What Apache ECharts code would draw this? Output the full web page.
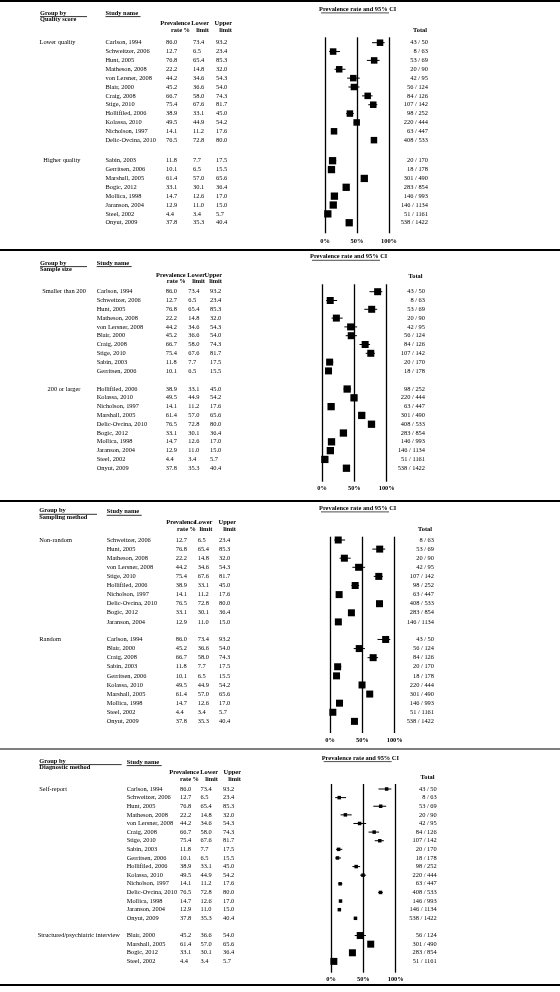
<!DOCTYPE html>
<html><head><meta charset="utf-8">
<script src="https://cdn.jsdelivr.net/npm/echarts@6/dist/echarts.min.js"></script>
<style>html,body{margin:0;padding:0;background:#fff}#c{width:560px;height:992px}</style>
</head><body><div id="c"></div><script>
// ---------- DATA ----------
const studies = ['Carlson, 1994','Schweitzer, 2006','Hunt, 2005','Matheson, 2008','von Lersner, 2008','Blair, 2000','Craig, 2008','Stige, 2010','Hollifiled, 2006','Kolassa, 2010','Nicholson, 1997','Delic-Ovcina, 2010','Sabin, 2003','Gerritsen, 2006','Marshall, 2005','Bogic, 2012','Mollica, 1998','Jaranson, 2004','Steel, 2002','Onyut, 2009'];
const prevalence = [86.0,12.7,76.8,22.2,44.2,45.2,66.7,75.4,38.9,49.5,14.1,76.5,11.8,10.1,61.4,33.1,14.7,12.9,4.4,37.8];
const lowerLimit = [73.4,6.5,65.4,14.8,34.6,36.6,58.0,67.6,33.1,44.9,11.2,72.8,7.7,6.5,57.0,30.1,12.6,11.0,3.4,35.3];
const upperLimit = [93.2,23.4,85.3,32.0,54.3,54.0,74.3,81.7,45.0,54.2,17.6,80.0,17.5,15.5,65.6,36.4,17.0,15.0,5.7,40.4];
const events = [43,8,53,20,42,56,84,107,98,220,63,408,20,18,301,283,146,146,51,538];
const totals = [50,63,69,90,95,124,126,142,252,444,447,533,170,178,490,854,993,1134,1161,1422];

const qualityLower = ['Carlson, 1994','Schweitzer, 2006','Hunt, 2005','Matheson, 2008','von Lersner, 2008','Blair, 2000','Craig, 2008','Stige, 2010','Hollifiled, 2006','Kolassa, 2010','Nicholson, 1997','Delic-Ovcina, 2010'];
const qualityHigher = ['Sabin, 2003','Gerritsen, 2006','Marshall, 2005','Bogic, 2012','Mollica, 1998','Jaranson, 2004','Steel, 2002','Onyut, 2009'];
const sizeSmall = ['Carlson, 1994','Schweitzer, 2006','Hunt, 2005','Matheson, 2008','von Lersner, 2008','Blair, 2000','Craig, 2008','Stige, 2010','Sabin, 2003','Gerritsen, 2006'];
const sizeLarge = ['Hollifiled, 2006','Kolassa, 2010','Nicholson, 1997','Marshall, 2005','Delic-Ovcina, 2010','Bogic, 2012','Mollica, 1998','Jaranson, 2004','Steel, 2002','Onyut, 2009'];
const samplingNonRandom = ['Schweitzer, 2006','Hunt, 2005','Matheson, 2008','von Lersner, 2008','Stige, 2010','Hollifiled, 2006','Nicholson, 1997','Delic-Ovcina, 2010','Bogic, 2012','Jaranson, 2004'];
const samplingRandom = ['Carlson, 1994','Blair, 2000','Craig, 2008','Sabin, 2003','Gerritsen, 2006','Kolassa, 2010','Marshall, 2005','Mollica, 1998','Steel, 2002','Onyut, 2009'];
const diagSelf = ['Carlson, 1994','Schweitzer, 2006','Hunt, 2005','Matheson, 2008','von Lersner, 2008','Craig, 2008','Stige, 2010','Sabin, 2003','Gerritsen, 2006','Hollifiled, 2006','Kolassa, 2010','Nicholson, 1997','Delic-Ovcina, 2010','Mollica, 1998','Jaranson, 2004','Onyut, 2009'];
const diagStructured = ['Blair, 2000','Marshall, 2005','Bogic, 2012','Steel, 2002'];

const panelTitles = ['Quality score','Sample size','Sampling method','Diagnostic method'];
const groupLabels = [['Lower quality','Higher quality'],['Smaller than 200','200 or larger'],['Non-random','Random'],['Self-report','Structured/psychiatric interview']];
const groupMembers = [[qualityLower,qualityHigher],[sizeSmall,sizeLarge],[samplingNonRandom,samplingRandom],[diagSelf,diagStructured]];
const tickValues = [0,50,100];
const tickLabels = ['0%','50%','100%'];

// ---------- LAYOUT ----------
const FS = 6.4;
const serif = '"Liberation Serif","DejaVu Serif",serif';
const layouts = [
 {lineY:1,lineColor:'#000',gbX:40,gbY:13,gbUL:87,subY:19.5,nameX:105.5,nameHdrY:13,prevX:166,lowX:193,upX:216,prevHdrR:190,lowHdrR:209,upHdrR:232,hdrY1:23.5,hdrY2:30,ciX:319,ciY:9.3,totHdrX:420,totHdrY:30,totR:428,x0:325,x100:389,top:37.3,bottom:233.3,firstRow:42.7,step:8.86,gap:1.32,labelY:241.7,glX:[39.5,43.3],glAlign:['left','left'],sizes:[6.5,7.3]},
 {lineY:250,lineColor:'#000',gbX:40,gbY:263,gbUL:87,subY:269.3,nameX:96.7,nameHdrY:263,prevX:165.7,lowX:188.3,upX:210,prevHdrR:185.7,lowHdrR:205,upHdrR:222,hdrY1:275,hdrY2:281.7,ciX:310,ciY:256.7,totHdrX:415.5,totHdrY:276.7,totR:425,x0:322,x100:386.7,top:284.3,bottom:481.7,firstRow:291.7,step:8.8,gap:1.06,labelY:489,glX:[64,64],glAlign:['center','center'],sizes:[7,7.3]},
 {lineY:501,lineColor:'#000',gbX:39.3,gbY:510.7,gbUL:97,subY:517.3,nameX:106.7,nameHdrY:511.7,prevX:175.7,lowX:197.7,upX:219,prevHdrR:196,lowHdrR:212.3,upHdrR:236,hdrY1:522.7,hdrY2:529.3,ciX:319,ciY:508.3,totHdrX:425,totHdrY:529,totR:434,x0:330,x100:394.7,top:536.7,bottom:733,firstRow:540,step:9.1,gap:0.93,labelY:741,glX:[39.3,39.3],glAlign:['left','left'],sizes:[7,7]},
 {lineY:749,lineColor:'#7f7f7f',gbX:39.3,gbY:761,gbUL:121.7,subY:767.5,nameX:126.7,nameHdrY:762,prevX:180,lowX:200.5,upX:223,prevHdrR:199,lowHdrR:218,upHdrR:241,hdrY1:772.5,hdrY2:779,ciX:321.7,ciY:758,totHdrX:427.5,totHdrY:777.7,totR:436.7,x0:331,x100:395.7,top:784,bottom:972.7,firstRow:789,step:8.62,gap:1.0,labelY:980,glX:[39.3,37.7],glAlign:['left','left'],sizes:[3.5,7]}
];

function txtEl(t,x,y,align,bold){
 return {type:'text',x:x,y:y,silent:true,style:{text:t,fontSize:FS,fontFamily:serif,fontWeight:bold?'bold':'normal',fill:'#000',align:align||'left',verticalAlign:'middle'}};
}
function lineEl(x1,y1,x2,y2,color,w){
 return {type:'line',silent:true,shape:{x1:x1,y1:y1,x2:x2,y2:y2},style:{stroke:color||'#000',lineWidth:w||0.8}};
}

const grids=[], xAxes=[], yAxes=[], series=[], graphics=[];
layouts.forEach((L,pi)=>{
 grids.push({left:L.x0,top:L.top,width:L.x100-L.x0,height:L.bottom-L.top});
 xAxes.push({gridIndex:pi,type:'value',min:0,max:100,interval:50,
  axisLine:{show:false},axisTick:{show:false},
  splitLine:{show:true,lineStyle:{color:'#000',width:1.3}},
  axisLabel:{margin:L.labelY-L.bottom-3.4,fontSize:FS,fontFamily:serif,fontWeight:'bold',color:'#000',
   formatter:v=>tickLabels[tickValues.indexOf(v)]}});
 yAxes.push({gridIndex:pi,type:'value',inverse:true,show:false,splitLine:{show:false},
  min:-(L.firstRow-L.top)/L.step,max:(L.bottom-L.firstRow)/L.step});
 // rows
 const rows=[]; let off=0;
 groupMembers[pi].forEach((mem,gi)=>{
  mem.forEach((nm,k)=>{
   const idx=studies.indexOf(nm);
   rows.push([prevalence[idx],off+k,lowerLimit[idx],upperLimit[idx],idx,gi,k===0?1:0]);
  });
  off+=mem.length+L.gap;
 });
 series.push({type:'custom',xAxisIndex:pi,yAxisIndex:pi,silent:true,clip:false,animation:false,
  encode:{x:[0,2,3],y:1},data:rows,
  renderItem:function(params,api){
   const yv=api.value(1);
   const c=api.coord([api.value(0),yv]);
   const lo=api.coord([api.value(2),yv]);
   const hi=api.coord([api.value(3),yv]);
   const idx=api.value(4), gi=api.value(5), first=api.value(6);
   const y=c[1], s=L.sizes[gi];
   const ch=[
    {type:'line',shape:{x1:lo[0],y1:y,x2:hi[0],y2:y},style:{stroke:'#000',lineWidth:1}},
    {type:'rect',shape:{x:c[0]-s/2,y:y-s/2,width:s,height:s},style:{fill:'#000'}},
    txtEl(studies[idx],L.nameX,y),
    txtEl(prevalence[idx].toFixed(1),L.prevX,y),
    txtEl(lowerLimit[idx].toFixed(1),L.lowX,y),
    txtEl(upperLimit[idx].toFixed(1),L.upX,y),
    txtEl(events[idx]+' / '+totals[idx],L.totR,y,'right')
   ];
   if(first) ch.push(txtEl(groupLabels[pi][gi],L.glX[gi],y,L.glAlign[gi]));
   return {type:'group',children:ch};
  }});
 // headers
 graphics.push(lineEl(0,L.lineY,560,L.lineY,L.lineColor,2.2));
 graphics.push(txtEl('Group by',L.gbX,L.gbY,'left',true));
 graphics.push(lineEl(L.gbX,L.gbY+3.6,L.gbUL,L.gbY+3.6,'#000',0.8));
 graphics.push(txtEl(panelTitles[pi],L.gbX,L.subY,'left',true));
 graphics.push(txtEl('Study name',L.nameX,L.nameHdrY,'left',true));
 graphics.push(lineEl(L.nameX,L.nameHdrY+3.6,L.nameX+35,L.nameHdrY+3.6,'#000',0.8));
 graphics.push(txtEl('Prevalence',L.prevHdrR,L.hdrY1,'right',true));
 graphics.push(txtEl('rate %',L.prevHdrR,L.hdrY2,'right',true));
 graphics.push(txtEl('Lower',L.lowHdrR,L.hdrY1,'right',true));
 graphics.push(txtEl('limit',L.lowHdrR,L.hdrY2,'right',true));
 graphics.push(txtEl('Upper',L.upHdrR,L.hdrY1,'right',true));
 graphics.push(txtEl('limit',L.upHdrR,L.hdrY2,'right',true));
 graphics.push(txtEl('Prevalence rate and 95% CI',L.ciX,L.ciY,'left',true));
 graphics.push(lineEl(L.ciX+2,L.ciY+3.6,L.ciX+70,L.ciY+3.6,'#000',0.7));
 graphics.push(txtEl('Total',L.totHdrX,L.totHdrY,'center',true));
});
graphics.push(lineEl(0,985,560,985,'#000',2.2));

const chart=echarts.init(document.getElementById('c'),null,{renderer:'canvas'});
chart.setOption({animation:false,backgroundColor:'#fff',grid:grids,xAxis:xAxes,yAxis:yAxes,series:series,graphic:{elements:graphics}});
</script></body></html>
